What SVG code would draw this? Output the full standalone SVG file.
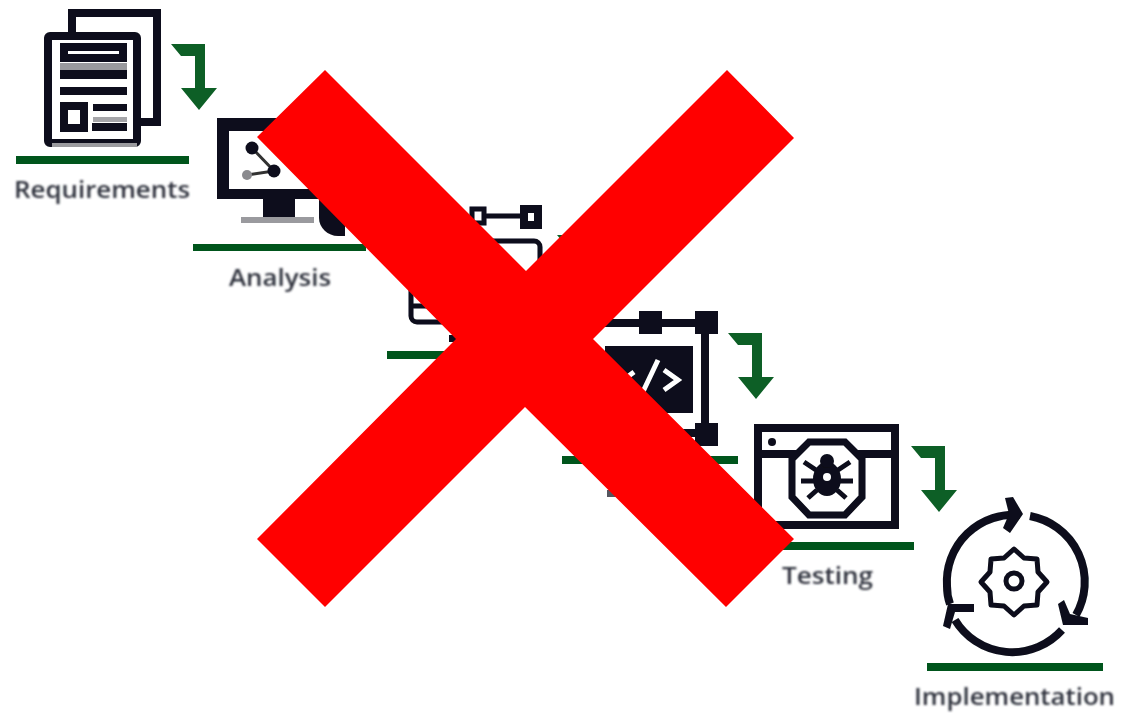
<svg xmlns="http://www.w3.org/2000/svg" width="1129" height="714" viewBox="0 0 1129 714">
<defs>
<filter id="soft" x="-5%" y="-5%" width="110%" height="110%"><feGaussianBlur stdDeviation="0.7"/></filter>
<filter id="softtext" x="-5%" y="-20%" width="110%" height="140%"><feGaussianBlur stdDeviation="0.8"/></filter>
<path id="arrow" d="M0 0H34V44H46L28 66L10 44H24V12H10Z"/>
</defs>
<style>
.bg{fill:#fff}
.ln{fill:none;stroke:#0a0d1a;stroke-width:8}
.thin{fill:none;stroke:#0a0d1a;stroke-width:5}
.blk{fill:#0a0d1a}
.bar{fill:#06551a}
.arr{fill:#0c5f26}
.lbl{font-family:"Open Sans","Liberation Sans",sans-serif;font-size:24px;font-weight:600;fill:#2f323c;filter:url(#softtext)}
.x{fill:#ff0000}
</style>
<rect class="bg" width="1129" height="714"/>
<g id="connectors" filter="url(#soft)">
<use class="arr" href="#arrow" transform="translate(171,44)"/>
<use class="arr" href="#arrow" transform="translate(557,235)"/>
<use class="arr" href="#arrow" transform="translate(728,333)"/>
<use class="arr" href="#arrow" transform="translate(911,446)"/>
</g>
<g id="requirements" filter="url(#soft)">
<path class="ln" d="M72 33V13H157V122H137"/>
<rect class="ln" x="48" y="36" width="89" height="107" rx="2"/>
<rect x="52" y="143" width="85" height="4" fill="#9a9a9e"/>
<rect class="ln" x="64" y="47" width="59" height="11"/>
<rect class="blk" x="60" y="70" width="67" height="9"/>
<rect x="60" y="63" width="67" height="7" fill="#9a9a9e"/>
<rect class="blk" x="60" y="87" width="67" height="8"/>
<rect class="ln" x="64" y="106" width="20" height="22" stroke-width="9"/>
<rect class="blk" x="93" y="104" width="34" height="7"/>
<rect class="blk" x="92" y="123" width="35" height="8"/>
<rect x="93" y="117" width="34" height="5" fill="#a5a5a9"/>
<rect class="bar" x="16" y="156" width="173" height="8"/>
<text class="lbl" x="14" y="198" textLength="176" lengthAdjust="spacingAndGlyphs">Requirements</text>
</g>
<g id="analysis" filter="url(#soft)">
<rect class="blk" x="217" y="118" width="124" height="81"/>
<rect class="bg" x="229" y="131" width="100" height="58"/>
<path d="M252 148L274 171L247 175" fill="none" stroke="#333" stroke-width="3"/>
<circle class="blk" cx="252" cy="148" r="6.5"/>
<circle class="blk" cx="274" cy="171" r="6.5"/>
<circle cx="247" cy="175" r="5" fill="#8a8a8e"/>
<rect class="blk" x="263" y="198" width="32" height="21"/>
<rect x="241" y="217" width="73" height="6" fill="#9a9a9e"/>
<path class="blk" d="M319 200H345V236H338C328 236 319 228 319 218Z"/>
<rect class="bar" x="193" y="244" width="173" height="7"/>
<text class="lbl" x="229" y="286" textLength="102" lengthAdjust="spacingAndGlyphs">Analysis</text>
</g>
<g id="design" filter="url(#soft)">
<rect class="thin" x="472" y="209" width="12" height="14"/>
<rect class="ln" x="524" y="209" width="14" height="16"/>
<path class="thin" d="M484 216H520"/>
<rect class="thin" x="411" y="241" width="129" height="81" rx="6"/>
<path class="thin" d="M411 306H450"/>
<rect class="blk" x="449" y="335" width="10" height="7"/>
<rect class="bar" x="387" y="351" width="173" height="8"/>
</g>
<g id="coding" filter="url(#soft)">
<path class="ln" d="M600 323H705V433H600" stroke-width="6"/>
<rect class="blk" x="639" y="311" width="23" height="23"/>
<rect class="blk" x="695" y="311" width="23" height="23"/>
<rect class="blk" x="695" y="423" width="23" height="23"/>
<rect class="blk" x="605" y="346" width="88" height="67"/>
<path d="M634 372L622 381L634 390M658 360L640 398M664 370L678 380L664 390" fill="none" stroke="#fff" stroke-width="5"/>
<rect class="bar" x="562" y="456" width="176" height="8"/>
<rect x="607" y="490" width="9" height="7" fill="#55575f"/>
</g>
<g id="testing" filter="url(#soft)">
<rect class="ln" x="758" y="428" width="137" height="97"/>
<path class="ln" d="M758 454H895"/>
<circle class="blk" cx="772" cy="442" r="4"/>
<path class="bg" d="M809 442H845L862 459V497L845 515H809L792 497V459Z" stroke="#0a0d1a" stroke-width="7"/>
<ellipse class="blk" cx="827" cy="479" rx="14" ry="17"/>
<circle class="bg" cx="827" cy="477" r="4"/>
<circle class="blk" cx="827" cy="461" r="7"/>
<path d="M804 462L816 470M850 462L838 470M801 481H814M853 481H840M808 498L817 490M846 498L837 490" fill="none" stroke="#0a0d1a" stroke-width="5"/>
<rect class="bar" x="770" y="542" width="144" height="8"/>
<text class="lbl" x="782" y="584" textLength="91" lengthAdjust="spacingAndGlyphs">Testing</text>
</g>
<g id="implementation" filter="url(#soft)">
<path class="ln" d="M1020 515A67 67 0 0 0 947 586Q947 596 950 604" stroke-width="9"/>
<path class="ln" d="M1030 516A67 67 0 0 1 1076 615" stroke-width="9"/>
<path class="ln" d="M955 620A67 67 0 0 0 1062 630" stroke-width="9"/>
<path class="blk" d="M1005 498L1013 497L1023 514L1010 533L1003 528L1009 514Z"/>
<path class="blk" d="M1058 604L1064 600L1070 614L1088 618V625H1063Z"/>
<path class="blk" d="M974 604V612H955L950 629L943 626L948 604Z"/>
<path class="thin" stroke-width="4" stroke-linejoin="round" d="M1047 582L1038 592L1037 605L1024 606L1014 615L1004 606L991 605L990 592L981 582L990 572L991 559L1004 558L1014 549L1024 558L1037 559L1038 572Z"/>
<circle cx="1014" cy="581" r="8" fill="none" stroke="#0a0d1a" stroke-width="5"/>
<rect class="bar" x="927" y="663" width="176" height="8"/>
<text class="lbl" x="914" y="705" textLength="201" lengthAdjust="spacingAndGlyphs">Implementation</text>
</g>
<path id="cross" class="x" d="M325 70L526 271L727 70L794 138L593 339L794 539L726 607L525 407L325 607L257 539L456 339L257 137Z"/>
</svg>
